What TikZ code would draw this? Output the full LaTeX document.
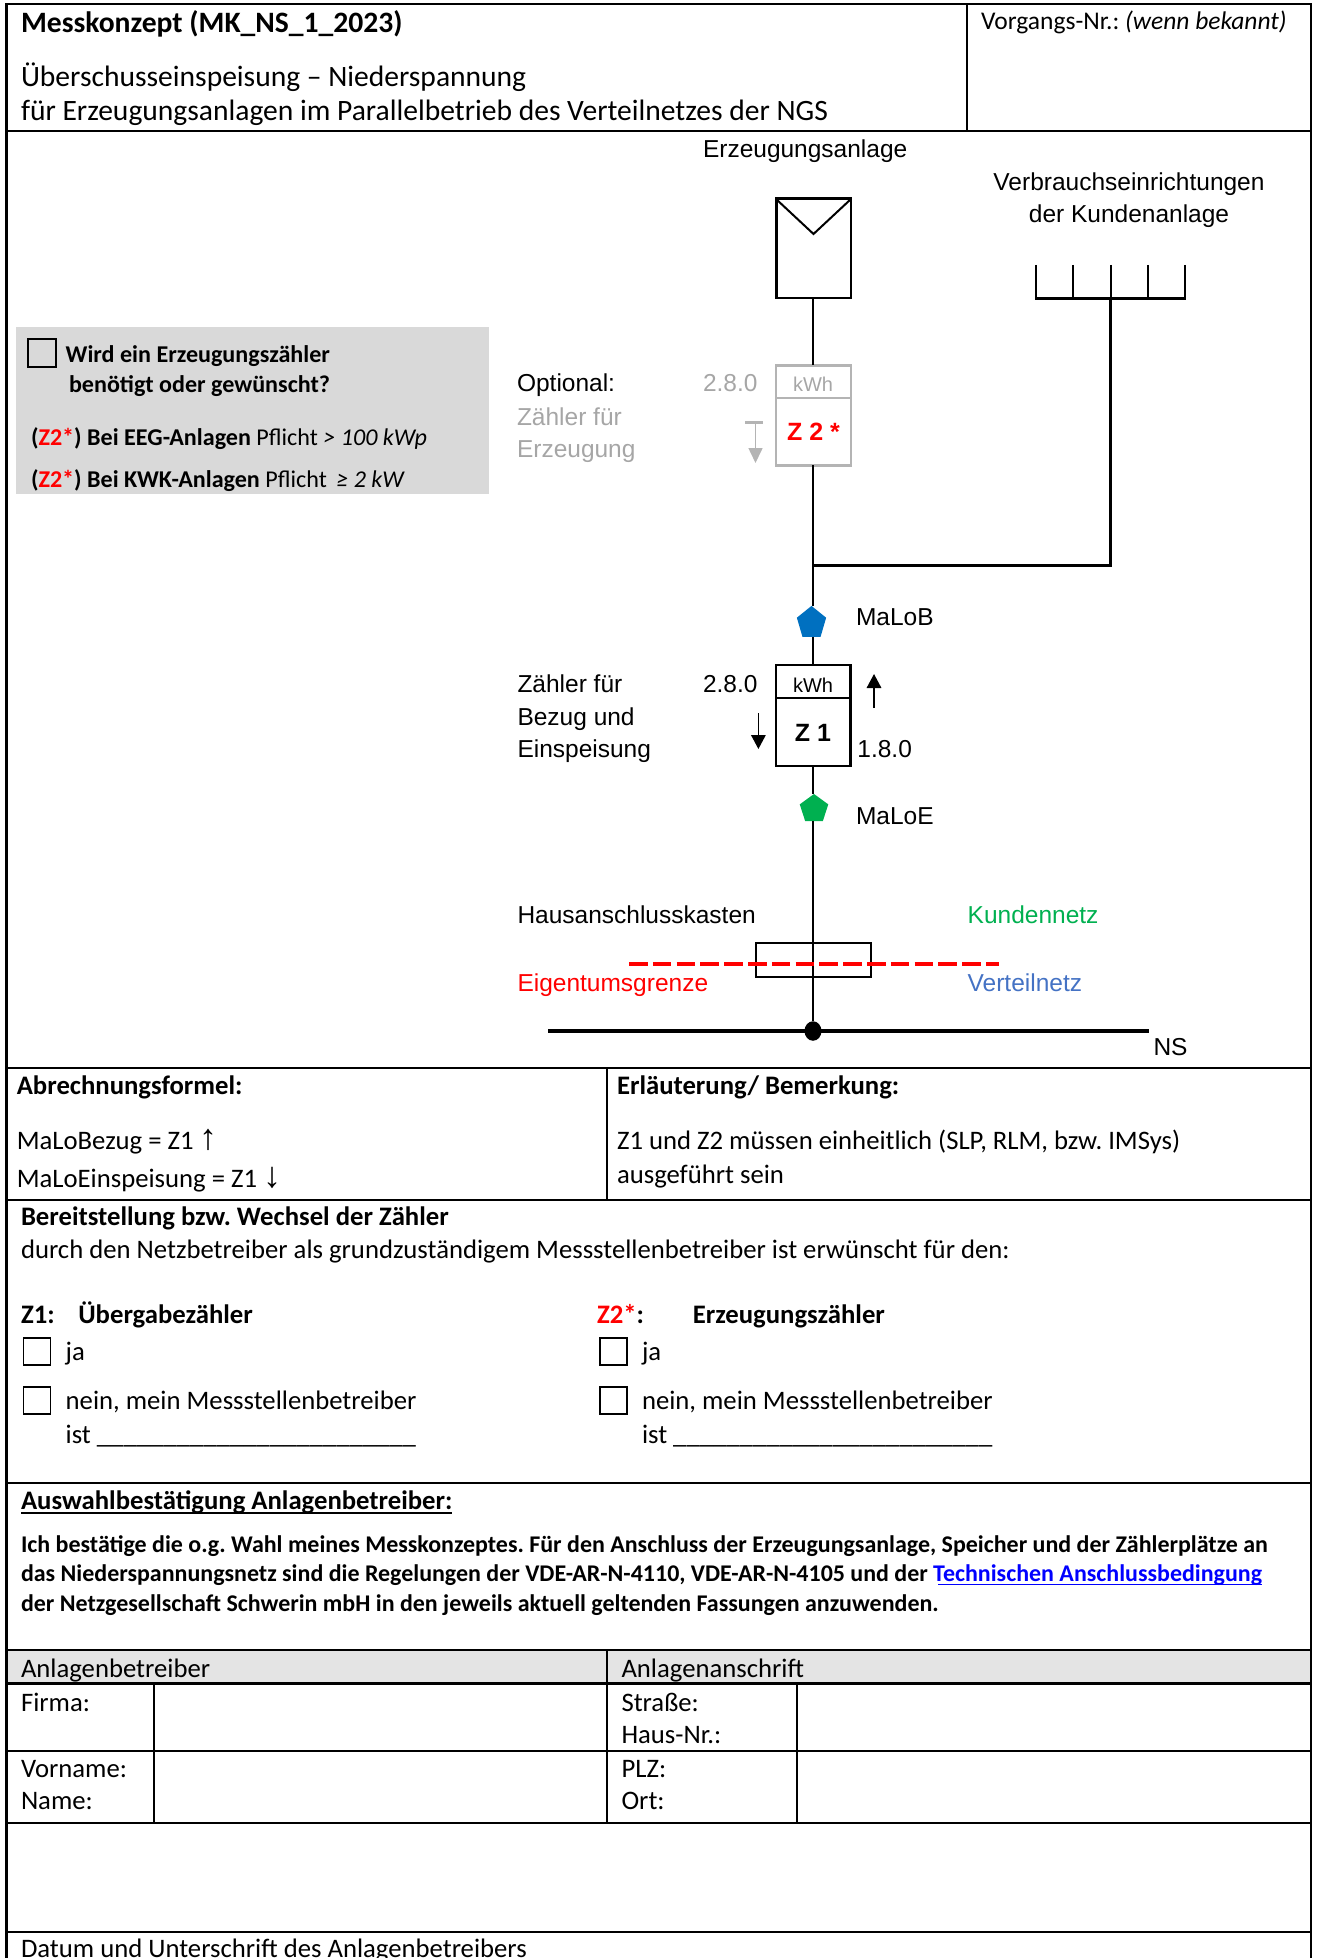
\documentclass[tikz,border=0pt]{standalone}
\usepackage{fontspec}
\setmainfont{Carlito}
\newfontfamily\arialf{Liberation Sans}
\usetikzlibrary{arrows.meta,shapes.geometric}
\definecolor{grayfill}{HTML}{D9D9D9}
\definecolor{headfill}{HTML}{E4E4E4}
\definecolor{optgray}{HTML}{A6A6A6}
\definecolor{boxgray}{HTML}{B4B4B4}
\definecolor{malobblue}{HTML}{0070C0}
\definecolor{maloegreen}{HTML}{00B050}
\definecolor{netblue}{HTML}{4472C4}
\newcommand{\rz}{\textcolor{red}{Z2*}}
\newcommand{\bigarrow}[1]{{\arialf\bfseries\fontsize{36}{30}\selectfont #1}}
\frenchspacing
\tikzset{
  x=1pt,y=-1pt,
  txt/.style={inner sep=0pt,outer sep=0pt,anchor=base west,font=\fontsize{26.7}{30}\selectfont},
  bold/.style={txt,font=\fontsize{26.7}{30}\bfseries\selectfont},
  smallb/.style={txt,font=\fontsize{23.96}{28}\bfseries\selectfont},
  head/.style={txt,font=\fontsize{29.55}{34}\selectfont},
  headb/.style={txt,font=\fontsize{29.6}{34}\bfseries\selectfont},
  vorg/.style={txt,font=\fontsize{25.5}{30}\selectfont},
  gboxb/.style={txt,font=\fontsize{24.1}{28}\bfseries\selectfont},
  ar/.style={txt,font=\arialf\fontsize{24.5}{28}\selectfont},
  frameline/.style={draw=black,line width=2.6pt},
  thinline/.style={draw=black,line width=1.6pt},
  wire/.style={draw=black,line width=2.4pt},
  check/.style={draw=black,line width=1.6pt,fill=none,minimum width=27pt,minimum height=27pt,inner sep=0pt,outer sep=0pt,anchor=north west},
  meterbox/.style={rectangle,inner sep=0pt,outer sep=0pt,minimum width=75pt},
  penta/.style={regular polygon,regular polygon sides=5,inner sep=0pt,outer sep=0pt,minimum size=34.2pt},
  fl/.style={-{Triangle[length=14pt,width=14.5pt]},line width=1.6pt},
}
\begin{document}
\begin{tikzpicture}
\useasboundingbox (0,0) rectangle (1320,1958);
% grey fills
\fill[headfill] (7,1650) rectangle (1311,1683.5);
\fill[grayfill] (16,327) rectangle (489,494);
% frame
\path[frameline] (6.7,1958) -- (6.7,4) -- (1311,4) -- (1311,1958);
\foreach \yy in {131,1068,1200,1483,1650,1683.5,1751,1823,1932}{\path[frameline] (6.7,\yy) -- (1311,\yy);}
\path[thinline] (967,4) -- (967,131);
\path[thinline] (607,1068) -- (607,1200);
\path[thinline] (607,1650) -- (607,1823);
\path[thinline] (154,1683.5) -- (154,1823);
\path[thinline] (797,1683.5) -- (797,1823);
% header
\node[headb] (t1) at (21,33) {Messkonzept (MK\_NS\_1\_2023)};
\node[head] (t2) at (21,87) {Überschusseinspeisung – Niederspannung};
\node[head] (t3) at (21,121) {für Erzeugungsanlagen im Parallelbetrieb des Verteilnetzes der NGS};
\node[vorg] (t4) at (981,30) {Vorgangs-Nr.: {\itshape (wenn bekannt)}};
% grey note
\node[check,minimum width=28pt,minimum height=28pt] (cb0) at (27.8,339) {};
\node[gboxb] (t5) at (65.7,362) {Wird ein Erzeugungszähler};
\node[gboxb] (t6) at (69,392) {benötigt oder gewünscht?};
\node[gboxb] (t7) at (31,445) {(\rz) Bei EEG-Anlagen {\mdseries Pflicht {\itshape > 100 kWp}}};
\node[gboxb] (t8) at (31,487) {(\rz) Bei KWK-Anlagen {\mdseries Pflicht\, {\itshape ≥ 2 kW}}};
% diagram labels
\node[ar] (d1) at (703,158) {Erzeugungsanlage};
\node[ar,anchor=base] (d2) at (1129,191) {Verbrauchseinrichtungen};
\node[ar,anchor=base] (d3) at (1129,223) {der Kundenanlage};
\node[ar] (d4) at (517,391) {Optional:};
\node[ar,text=optgray] (d5) at (517,425) {Zähler für};
\node[ar,text=optgray] (d6) at (517,457) {Erzeugung};
\node[ar,text=optgray] (d7) at (703,391) {2.8.0};
\node[ar] (d8) at (856,625) {MaLoB};
\node[ar] (d9) at (703,692) {2.8.0};
\node[ar] (d10) at (857.4,757) {1.8.0};
\node[ar] (d11) at (517.5,692) {Zähler für};
\node[ar] (d12) at (517.5,725) {Bezug und};
\node[ar] (d13) at (517.5,757) {Einspeisung};
\node[ar] (d14) at (856,824) {MaLoE};
\node[ar] (d15) at (517.5,923) {Hausanschlusskasten};
\node[ar,text=maloegreen] (d16) at (967.7,923) {Kundennetz};
\node[ar,text=red] (d17) at (517.5,991) {Eigentumsgrenze};
\node[ar,text=netblue] (d18) at (967.7,991) {Verteilnetz};
\node[ar] (d19) at (1153.5,1055) {NS};
% PV module
\coordinate (pvnw) at (776,199); \coordinate (pvne) at (851,199);
\coordinate (pvsw) at (776,298); \coordinate (pvse) at (851,298);
\coordinate (pvtip) at (813.5,234); \coordinate (pvb) at (813,298);
\path[draw=black,line width=3pt] (pvnw) -- (pvsw);
\path[draw=black,line width=2.2pt] (pvne) -- (pvse);
\path[draw=black,line width=3pt] (775,199) -- (852,199);
\path[draw=black,line width=2.4pt] (775,298) -- (852,298);
\path[draw=black,line width=2pt] (pvnw) -- (pvtip) -- (pvne);
% consumers
\coordinate (c1) at (1036.3,265); \coordinate (c2) at (1073.3,265); \coordinate (c3) at (1110.7,265);
\coordinate (c4) at (1148,265); \coordinate (c5) at (1185.3,265);
\foreach \c in {c1,c2,c3,c4,c5}{\path[draw=black,line width=2.2pt] (\c) -- ++(0,35);}
\path[draw=black,line width=2.4pt] (1035.5,298.7) -- (1186,298.7);
\coordinate (cb) at (1110.7,298.7);
\coordinate (jun) at (813,565);
% Z2
\node[meterbox,draw=boxgray,line width=2.4pt,minimum height=100pt,anchor=north west] (z2) at (776,365.3) {};
\path[draw=boxgray,line width=2pt] (776,398.3) -- (851,398.3);
\node[txt,anchor=base,text=optgray,font=\arialf\fontsize{20}{24}\selectfont] (kwh2) at (813,391.7) {kWh};
\node[txt,anchor=base,text=red,font=\arialf\fontsize{25}{28}\bfseries\selectfont] (z2t) at (813.5,440.7) {Z 2 *};
% gray arrow
\coordinate (ga1) at (755.5,422); \coordinate (ga2) at (755.5,463);
\path[draw=boxgray,line width=3pt] (745,422) -- (763,422);
\draw[boxgray,line width=1.6pt,-{Triangle[length=15pt,width=14pt]}] (ga1) -- (ga2);
% Z1
\node[meterbox,draw=black,line width=2.6pt,minimum width=74.5pt,minimum height=101pt,anchor=north west] (z1) at (776,665) {};
\path[draw=black,line width=2.4pt] (776,698) -- (850.5,698);
\node[txt,anchor=base,font=\arialf\fontsize{20}{24}\selectfont] (kwh1) at (813,692) {kWh};
\node[txt,anchor=base,font=\arialf\fontsize{25}{28}\bfseries\selectfont] (z1t) at (813,741) {Z 1};
\coordinate (up1) at (874,708); \coordinate (up2) at (874,674);
\coordinate (dn1) at (758.4,713); \coordinate (dn2) at (758.4,749);
\draw[fl] (up1) -- (up2);
\draw[fl] (dn1) -- (dn2);
% pentagons
\node[penta,fill=malobblue,xscale=.9,transform shape] (malob) at (811.5,623) {};
\node[penta,fill=maloegreen,minimum size=30pt] (maloe) at (814,809) {};
% house connection box, bus
\node[draw=black,line width=1.6pt,rectangle,inner sep=0pt,outer sep=0pt,minimum width=115pt,minimum height=34pt] (hak) at (813.5,960) {};
\coordinate (nsl) at (548,1031); \coordinate (nsr) at (1148.6,1031);
\node[ellipse,fill=black,inner sep=0pt,outer sep=0pt,minimum width=17pt,minimum height=19.5pt] (dot) at (813,1031) {};
% connectors
\path[wire] (pvb) -- (z2.north -| pvb);
\path[wire] (z2.south -| pvb) -- (jun);
\path[wire] (jun) -- (malob.north -| jun);
\path[wire] (malob.south -| jun) -- (z1.north -| jun);
\path[wire] (z1.south -| jun) -- (maloe.north -| jun);
\path[wire] (maloe.south -| jun) -- (dot.north -| jun);
\path[draw=black,line width=3pt] (jun) -| (cb);
\path[draw=black,line width=4.4pt] (nsl) -- (nsr);
\path[draw=red,line width=3.6pt,dash pattern=on 18.5pt off 5.3pt] (629,964) -- (999,964);
% billing
\node[bold] (b1) at (16.8,1094) {Abrechnungsformel:};
\node[txt] (b2) at (16.8,1149) {MaLoBezug = Z1 \bigarrow{↑}};
\node[txt] (b3) at (16.8,1187) {MaLoEinspeisung = Z1 \bigarrow{↓}};
\node[bold] (b4) at (617,1094) {Erläuterung/ Bemerkung:};
\node[txt] (b5) at (617,1149) {Z1 und Z2 müssen einheitlich (SLP, RLM, bzw. IMSys)};
\node[txt] (b6) at (617,1183) {ausgeführt sein};
% provision
\node[bold] (p1) at (21,1225) {Bereitstellung bzw. Wechsel der Zähler};
\node[txt] (p2) at (21,1258) {durch den Netzbetreiber als grundzuständigem Messstellenbetreiber ist erwünscht für den:};
\node[bold] (p3) at (21,1323) {Z1:};
\node[bold] (p4) at (78.3,1323) {Übergabezähler};
\node[bold] (p5) at (597,1323) {\rz:};
\node[bold] (p6) at (692.8,1323) {Erzeugungszähler};
\node[check] (cb1) at (23.6,1338) {};
\node[check] (cb2) at (23.6,1387) {};
\node[check] (cb3) at (600,1338) {};
\node[check] (cb4) at (600,1387) {};
\node[txt] (p7) at (65.7,1360) {ja};
\node[txt] (p8) at (65.7,1409) {nein, mein Messstellenbetreiber};
\node[txt] (p9) at (65.7,1443) {ist \_\_\_\_\_\_\_\_\_\_\_\_\_\_\_\_\_\_\_\_\_\_\_\_};
\node[txt] (p10) at (642,1360) {ja};
\node[txt] (p11) at (642,1409) {nein, mein Messstellenbetreiber};
\node[txt] (p12) at (642,1443) {ist \_\_\_\_\_\_\_\_\_\_\_\_\_\_\_\_\_\_\_\_\_\_\_\_};
% confirmation
\node[bold] (a1) at (21,1509) {Auswahlbestätigung Anlagenbetreiber:};
\path[draw=black,line width=1.5pt] (21,1513) -- (a1.base east |- 0,1513);
\node[smallb] (a2) at (21,1552) {Ich bestätige die o.g. Wahl meines Messkonzeptes. Für den Anschluss der Erzeugungsanlage, Speicher und der Zählerplätze an};
\node[smallb] (a3) at (21,1581) {das Niederspannungsnetz sind die Regelungen der VDE-AR-N-4110, VDE-AR-N-4105 und der \textcolor{blue}{Technischen Anschlussbedingung}};
\path[draw=blue,line width=1.5pt] (938,1584.5) -- (a3.base east |- 0,1584.5);
\node[smallb] (a4) at (21,1611) {der Netzgesellschaft Schwerin mbH in den jeweils aktuell geltenden Fassungen anzuwenden.};
% address table
\node[txt] (f1) at (21,1677) {Anlagenbetreiber};
\node[txt] (f2) at (621.5,1677) {Anlagenanschrift};
\node[txt] (f3) at (21,1711) {Firma:};
\node[txt] (f4) at (621.5,1711) {Straße:};
\node[txt] (f5) at (621.5,1743) {Haus-Nr.:};
\node[txt] (f6) at (21,1777) {Vorname:};
\node[txt] (f7) at (21,1809) {Name:};
\node[txt] (f8) at (621.5,1777) {PLZ:};
\node[txt] (f9) at (621.5,1809) {Ort:};
\node[txt] (f10) at (21,1957) {Datum und Unterschrift des Anlagenbetreibers};
\end{tikzpicture}
\end{document}
